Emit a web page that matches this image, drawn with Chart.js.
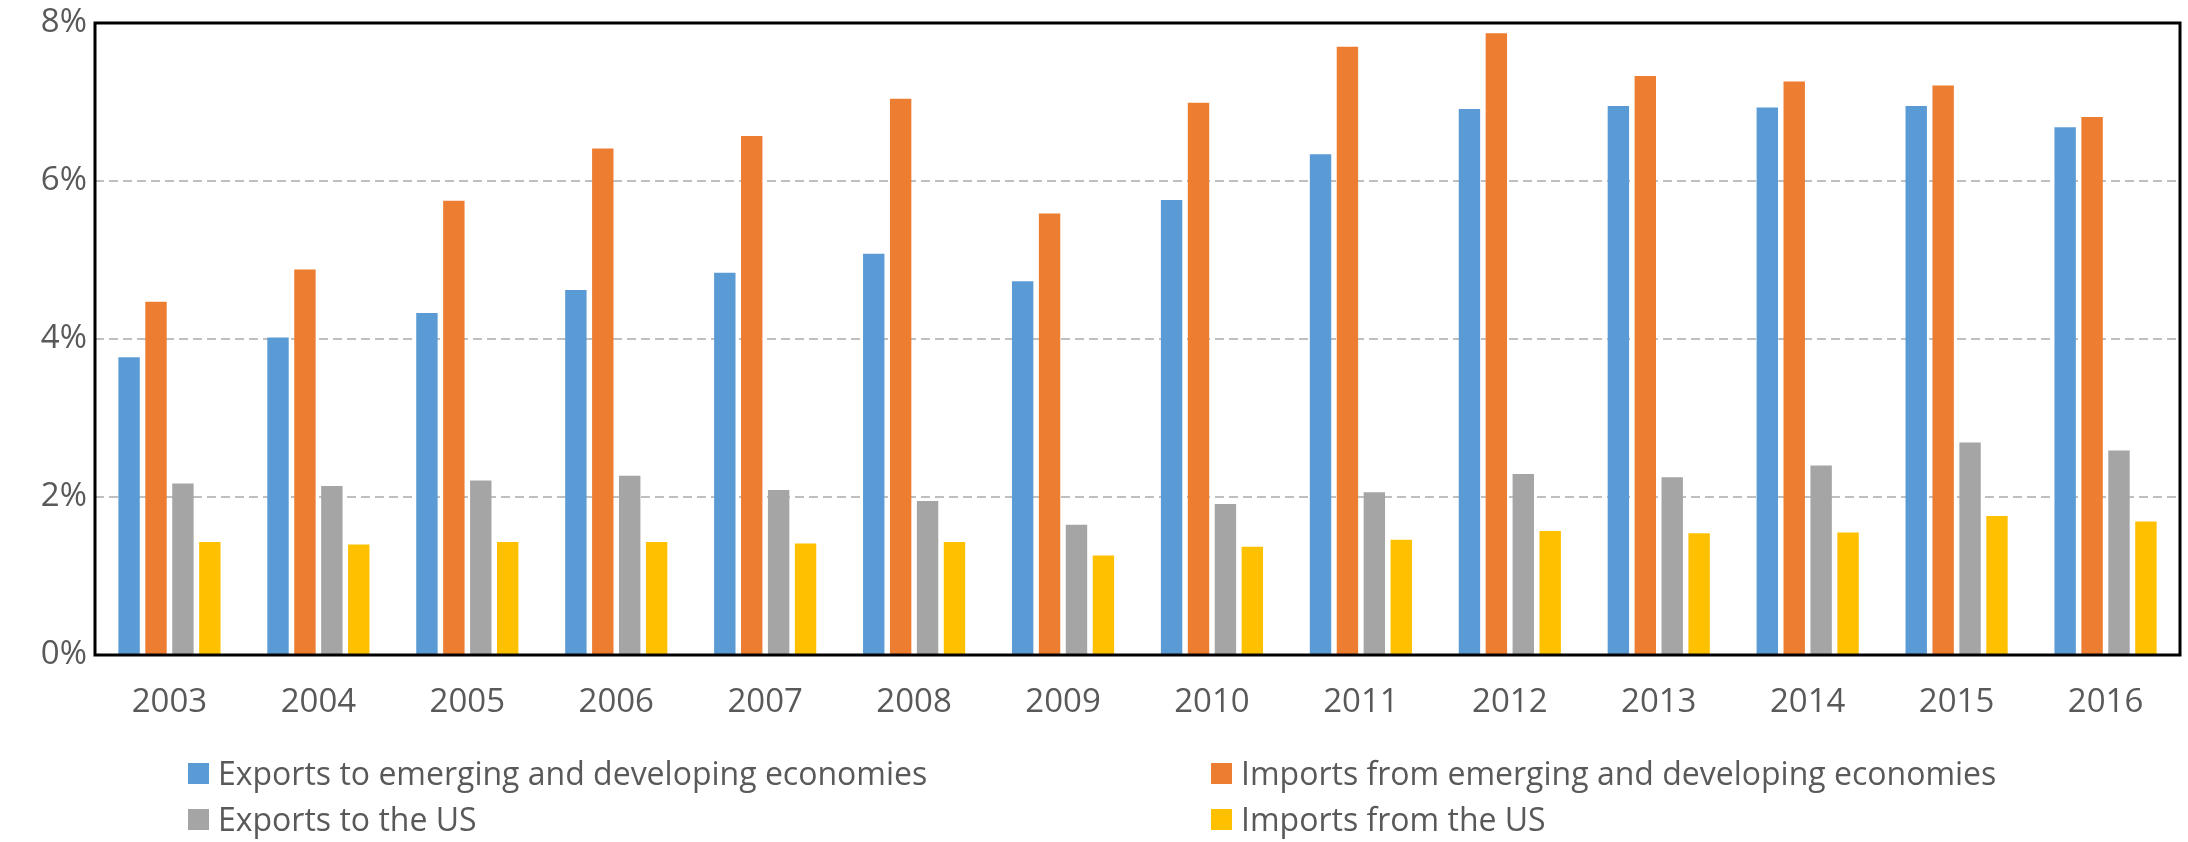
<!DOCTYPE html>
<html>
<head>
<meta charset="utf-8">
<script src="https://cdn.jsdelivr.net/npm/chart.js@4/dist/chart.umd.min.js"></script>
<style>
  html, body { margin: 0; padding: 0; background: #fff; }
  #wrap { position: relative; width: 2188px; height: 842px; }
  #legend { position: absolute; left: 0; top: 0; width: 2188px; height: 842px; pointer-events: none;
            font-family: "Open Sans", sans-serif; font-size: 32px; color: #595959; }
  .box { position: absolute; width: 21px; height: 21px; }
  .lbl { position: absolute; line-height: 32px; white-space: nowrap; }
</style>
</head>
<body>
<div id="wrap">
  <canvas id="chart" width="2188" height="842"></canvas>
  <div id="legend"></div>
</div>
<script>
const years = ['2003', '2004', '2005', '2006', '2007', '2008', '2009', '2010', '2011', '2012', '2013', '2014', '2015', '2016'];
const exportsEmerging = [3.77, 4.02, 4.33, 4.62, 4.84, 5.08, 4.73, 5.76, 6.34, 6.91, 6.95, 6.93, 6.95, 6.68];
const importsEmerging = [4.47, 4.88, 5.75, 6.41, 6.57, 7.04, 5.59, 6.99, 7.70, 7.87, 7.33, 7.26, 7.21, 6.81];
const exportsUS = [2.17, 2.14, 2.21, 2.27, 2.09, 1.95, 1.65, 1.91, 2.06, 2.29, 2.25, 2.40, 2.69, 2.59];
const importsUS = [1.43, 1.40, 1.43, 1.43, 1.41, 1.43, 1.26, 1.37, 1.46, 1.57, 1.54, 1.55, 1.76, 1.69];
const yTicks = [0, 2, 4, 6, 8];

const seriesNames = [
    'Exports to emerging and developing economies',
    'Imports from emerging and developing economies',
    'Exports to the US',
    'Imports from the US'
];
const colors = ['#5B9BD5', '#ED7D31', '#A5A5A5', '#FFC000'];
const allData = [exportsEmerging, importsEmerging, exportsUS, importsUS];

// frame round the plot area, like the Excel original
const frame = {
    id: 'frame',
    afterDraw(chart) {
        const a = chart.chartArea;
        const ctx = chart.ctx;
        ctx.save();
        ctx.strokeStyle = '#000';
        ctx.lineWidth = 3;
        ctx.strokeRect(a.left, a.top, a.right - a.left, a.bottom - a.top);
        ctx.restore();
    }
};

const ctx = document.getElementById('chart').getContext('2d');
new Chart(ctx, {
    type: 'bar',
    data: {
        labels: years,
        datasets: allData.map((d, i) => ({
            label: seriesNames[i],
            data: d,
            backgroundColor: colors[i],
            borderWidth: 0,
            categoryPercentage: 0.723,
            barPercentage: 0.795
        }))
    },
    options: {
        responsive: false,
        animation: false,
        layout: { padding: { top: 23, right: 8, left: 0, bottom: 0 } },
        plugins: {
            legend: { display: false },
            tooltip: { enabled: false }
        },
        scales: {
            x: {
                grid: { display: false, drawTicks: false },
                border: { display: false },
                ticks: {
                    color: '#595959',
                    font: { family: 'Open Sans', size: 33 },
                    padding: 28,
                    maxRotation: 0
                },
                afterFit(scale) {
                    scale.height = 187;
                    scale.paddingLeft = 0;
                    scale.paddingRight = 0;
                }
            },
            y: {
                min: 0,
                max: 8,
                afterBuildTicks(scale) { scale.ticks = yTicks.map(v => ({ value: v })); },
                grid: {
                    drawTicks: false,
                    color: c => (c.tick.value === 0 || c.tick.value === 8) ? 'rgba(0,0,0,0)' : '#BFBFBF',
                    lineWidth: 2
                },
                border: { display: false, dash: [9, 5] },
                ticks: {
                    color: '#595959',
                    font: { family: 'Open Sans', size: 33 },
                    padding: 8,
                    callback: v => v + '%'
                },
                afterFit(scale) {
                    scale.width = 95;
                    scale.paddingTop = 0;
                    scale.paddingBottom = 0;
                }
            }
        }
    },
    plugins: [frame]
});

// legend, two columns as in the original
const legend = document.getElementById('legend');
const colX = [188, 1211];
const rowY = [763, 809];
seriesNames.forEach((name, i) => {
    const col = i % 2, row = Math.floor(i / 2);
    const b = document.createElement('div');
    b.className = 'box';
    b.style.left = colX[col] + 'px';
    b.style.top = rowY[row] + 'px';
    b.style.background = colors[i];
    legend.appendChild(b);
    const t = document.createElement('div');
    t.className = 'lbl';
    t.style.left = (colX[col] + 30) + 'px';
    t.style.top = (rowY[row] - 6) + 'px';
    t.textContent = name;
    legend.appendChild(t);
});
</script>
</body>
</html>
